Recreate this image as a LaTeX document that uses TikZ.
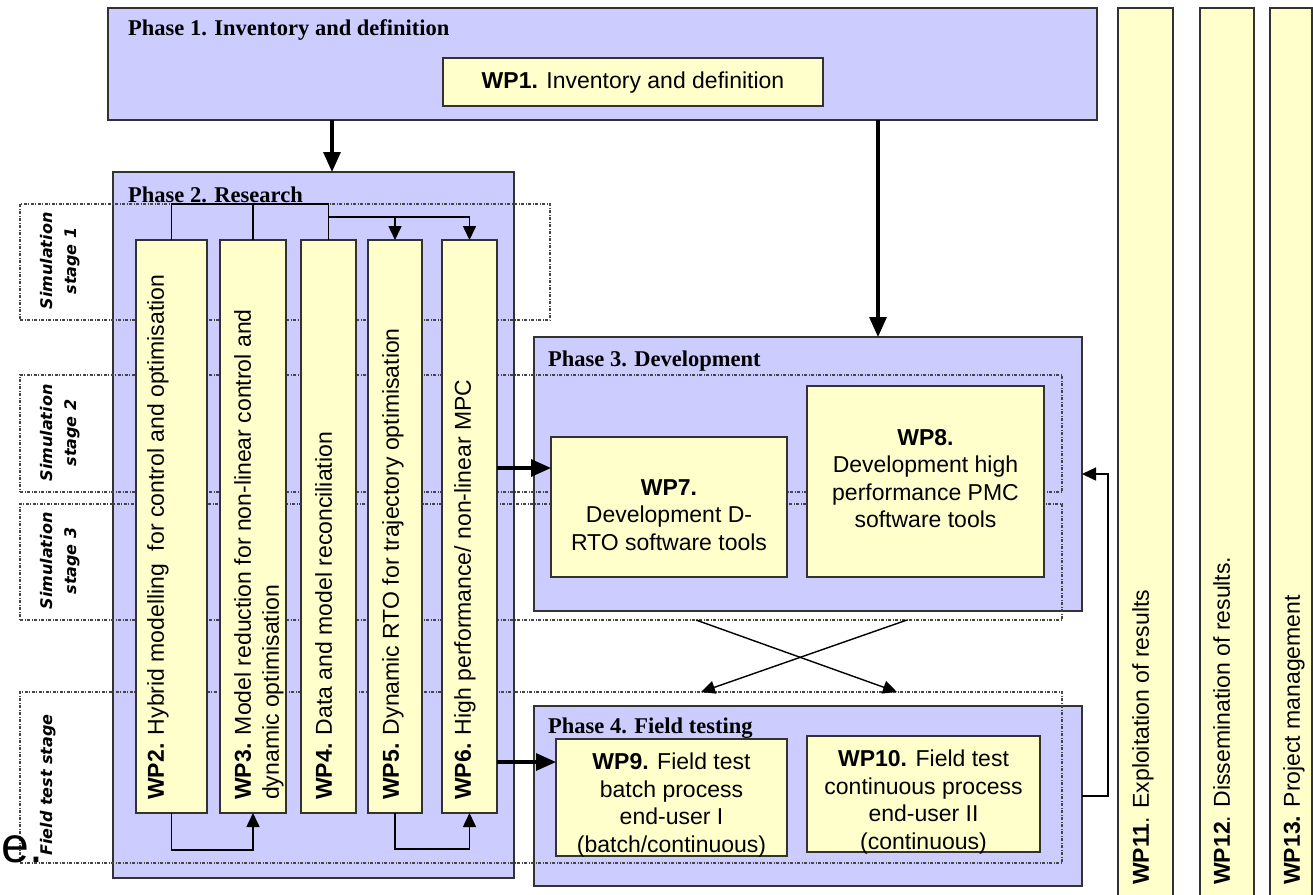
\documentclass[tikz,border=0pt]{standalone}
\usepackage{fontspec}
\newfontfamily\wpfont{Liberation Sans}
\newfontfamily\phasefont{Liberation Serif}
\newfontfamily\stagefont{DejaVu Sans}
\usetikzlibrary{arrows.meta}
\definecolor{phaseblue}{RGB}{204,204,255}
\definecolor{wpyellow}{RGB}{255,255,204}
\definecolor{edge}{RGB}{50,50,50}
\definecolor{dotline}{RGB}{70,70,70}

\tikzset{
  phase/.style={draw=edge, line width=2.2pt, fill=phaseblue, rectangle, anchor=north west, inner sep=0pt, outer sep=0pt},
  wp/.style={draw=edge, line width=1.8pt, fill=wpyellow, rectangle, anchor=north west, inner sep=0pt, outer sep=0pt},
  stagebox/.style={draw=dotline, line width=1.2pt, dash pattern=on 3pt off 1.5pt on 1pt off 1.5pt, rectangle, anchor=north west, inner sep=0pt, outer sep=0pt},
  phasetitle/.style={anchor=base west, inner sep=0pt, font=\phasefont\bfseries\fontsize{22.5}{26}\selectfont},
  wptext/.style={inner sep=0pt, align=center, font=\wpfont\fontsize{23}{27.5}\selectfont},
  wpvert/.style={inner sep=0pt, rotate=90, anchor=north west, align=left, font=\wpfont\fontsize{23}{28}\selectfont},
  sidetext/.style={inner sep=0pt, rotate=90, anchor=north west, font=\wpfont\fontsize{23}{27}\selectfont},
  stagetext/.style={inner sep=0pt, rotate=90, align=center, font=\stagefont\bfseries\itshape\fontsize{16}{24}\selectfont},
  bigarrow/.style={draw=black, line width=3.2pt, -{Triangle[length=20pt,width=17pt]}},
  thinline/.style={draw=black, line width=1.6pt},
  smallarrow/.style={draw=black, line width=1.6pt, -{Triangle[length=14pt,width=13pt]}},
}

\begin{document}
\begin{tikzpicture}[x=1pt, y=-1pt]
\useasboundingbox (0,0) rectangle (1313,894);

% phase containers
\node[phase, minimum width=989pt, minimum height=112pt] (p1) at (108,8) {};
\node[wp, minimum width=380pt, minimum height=48pt] (wp1) at (443,58) {};
\node[phase, minimum width=401pt, minimum height=706pt] (p2) at (113,172) {};
\node[phase, minimum width=548pt, minimum height=274pt] (p3) at (534,337) {};
\node[phase, minimum width=548pt, minimum height=180pt] (p4) at (534,706) {};

% stage bands (dotted)
\node[stagebox, minimum width=530pt, minimum height=116pt] (s1) at (20,204) {};
\node[stagebox, minimum width=1042pt, minimum height=117pt] (s2) at (20,375) {};
\node[stagebox, minimum width=1042pt, minimum height=116pt] (s3) at (20,504) {};
\node[stagebox, minimum width=1042pt, minimum height=171pt] (s4) at (20,692) {};

\node[stagetext] (ls1) at (60,261) {Simulation\\stage 1};
\node[stagetext] (ls2) at (60,433) {Simulation\\stage 2};
\node[stagetext] (ls3) at (60,561) {Simulation\\stage 3};
\node[stagetext] (ls4) at (48,785) {Field test stage};
\node[anchor=base west, inner sep=0pt, font=\wpfont\fontsize{50}{50}\selectfont] (stray) at (1,862) {e.};

% work packages of phase 2
\node[wp, minimum width=71pt, minimum height=573pt] (wp2) at (136,240) {};
\node[wp, minimum width=66pt, minimum height=573pt] (wp3) at (220,240) {};
\node[wp, minimum width=55pt, minimum height=573pt] (wp4) at (301,240) {};
\node[wp, minimum width=54pt, minimum height=573pt] (wp5) at (368,240) {};
\node[wp, minimum width=55pt, minimum height=573pt] (wp6) at (442,240) {};

% work packages of phases 3 and 4
\node[wp, minimum width=236pt, minimum height=140pt] (wp7) at (551,437) {};
\node[wp, minimum width=237pt, minimum height=191pt] (wp8) at (807,386) {};
\node[wp, minimum width=231pt, minimum height=117pt] (wp9) at (556,739) {};
\node[wp, minimum width=233pt, minimum height=116pt] (wp10) at (807,736) {};

% transversal work packages
\node[wp, minimum width=55pt, minimum height=900pt] (wp11) at (1118,8) {};
\node[wp, minimum width=54pt, minimum height=900pt] (wp12) at (1200,8) {};
\node[wp, minimum width=42pt, minimum height=900pt] (wp13) at (1270,8) {};

% titles
\node[phasetitle] (tp1) at (128,35) {Phase 1. Inventory and definition};
\node[phasetitle] (tp2) at (128,202) {Phase 2. Research};
\node[phasetitle] (tp3) at (548,366) {Phase 3. Development};
\node[phasetitle] (tp4) at (548,733) {Phase 4. Field testing};

% work package labels
\node[wptext] (t1) at (633,83) {\textbf{WP1.} Inventory and definition};
\node[wpvert] (t2) at (147,800) {\textbf{WP2.} Hybrid modelling\ \ for control and optimisation};
\node[wpvert] (t3) at (234,800) {\textbf{WP3.} Model reduction for non-linear control and\\dynamic optimisation};
\node[wpvert] (t4) at (315,800) {\textbf{WP4.} Data and model reconciliation};
\node[wpvert] (t5) at (382,800) {\textbf{WP5.} Dynamic RTO for trajectory optimisation};
\node[wpvert] (t6) at (454,800) {\textbf{WP6.} High performance/ non-linear MPC};
\node[wptext] (t7) at (669,515) {\textbf{WP7.}\\Development D-\\RTO software tools};
\node[wptext] (t8) at (925.5,478.5) {\textbf{WP8.}\\Development high\\performance PMC\\software tools};
\node[wptext] (t9) at (671.5,805) {\textbf{WP9.} Field test\\batch process\\end-user I\\(batch/continuous)};
\node[wptext] (t10) at (923.5,802) {\textbf{WP10.} Field test\\continuous process\\end-user II\\(continuous)};
\node[sidetext] (t11) at (1132,885) {\textbf{WP11}. Exploitation of results};
\node[sidetext] (t12) at (1213,885) {\textbf{WP12}. Dissemination of results.};
\node[sidetext] (t13) at (1283,885) {\textbf{WP13.} Project management};

% reference points for connectors
\coordinate (c1) at (332,0);
\coordinate (c2) at (878,0);
\coordinate (bus1) at (0,204);
\coordinate (bus2) at (0,217);
\coordinate (loopA) at (0,850);
\coordinate (loopB) at (0,849);
\coordinate (lv7) at (0,468);
\coordinate (lv9) at (0,762);
\coordinate (xa) at (696,620);
\coordinate (xb) at (897,692);
\coordinate (xc) at (907,620);
\coordinate (xd) at (701,692);
\coordinate (fb) at (1108,0);
\coordinate (fbin) at (0,474);
\coordinate (fbout) at (0,796);

% phase flow
\draw[bigarrow] (p1.south -| c1) -- (p2.north -| c1);
\draw[bigarrow] (p1.south -| c2) -- (p3.north -| c2);
\draw[bigarrow] (wp6.east |- lv7) -- (wp7.west |- lv7);
\draw[bigarrow] (wp6.east |- lv9) -- (wp9.west |- lv9);

% links inside phase 2
\draw[thinline] (wp2.north) -- (wp2.north |- bus1) -- (wp4.north |- bus1) -- (wp4.north);
\draw[thinline] (wp3.north) -- (wp3.north |- bus1);
\draw[smallarrow] (wp4.north |- bus2) -- (wp6.north |- bus2) -- (wp6.north);
\draw[smallarrow] (wp5.north |- bus2) -- (wp5.north);
\draw[smallarrow] (wp2.south) -- (wp2.south |- loopA) -- (wp3.south |- loopA) -- (wp3.south);
\draw[smallarrow] (wp5.south) -- (wp5.south |- loopB) -- (wp6.south |- loopB) -- (wp6.south);

% development to field testing
\draw[smallarrow, line width=1.4pt] (xa) -- (xb);
\draw[smallarrow, line width=1.4pt] (xc) -- (xd);

% feedback from field testing
\draw[smallarrow] (p4.east |- fbout) -- (fb |- fbout) -- (fb |- fbin) -- (p3.east |- fbin);
\end{tikzpicture}
\end{document}
